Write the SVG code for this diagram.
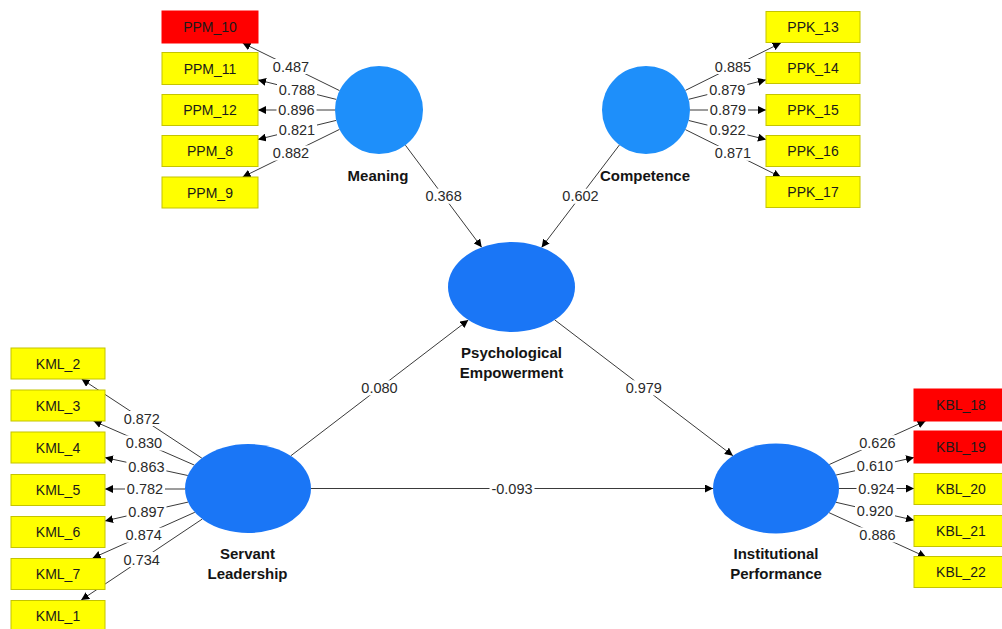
<svg xmlns="http://www.w3.org/2000/svg" width="1002" height="629" viewBox="0 0 1002 629">
<style>
.bg{fill:#ffffff}
.ind{fill:#ffff00;stroke:#c4c400;stroke-width:1}
.bad{fill:#ff0000;stroke:#ff0000;stroke-width:1}
.bt{font-family:"Liberation Sans",Arial,sans-serif;font-size:14px;fill:#1a1a1a;text-anchor:middle}
.lv1{fill:#1e8ffa}
.lv2{fill:#1a76f6}
.nl{font-family:"Liberation Sans",Arial,sans-serif;font-size:15px;font-weight:bold;fill:#141414;text-anchor:middle}
.ln{stroke:#3a3a3a;stroke-width:1;fill:none;marker-end:url(#ah)}
.lb{fill:#ffffff}
.lt{font-family:"Liberation Sans",Arial,sans-serif;font-size:14.5px;fill:#2a2a2a;text-anchor:middle}
</style>
<defs>
<marker id="ah" viewBox="0 0 8 8" refX="8" refY="4" markerWidth="8" markerHeight="8" markerUnits="userSpaceOnUse" orient="auto">
<path d="M0,0 L8,4 L0,8 z" fill="#000000"/>
</marker>
</defs>
<rect class="bg" x="0" y="0" width="1002" height="629"/>

<g id="connectors">
<!-- Meaning -->
<line class="ln" x1="339.5" y1="90.6" x2="242.6" y2="43"/>
<rect class="lb" x="271" y="59" width="40" height="15"/><text class="lt" x="291" y="71.8">0.487</text>
<line class="ln" x1="336.3" y1="99.4" x2="258" y2="79.9"/>
<rect class="lb" x="277" y="82" width="40" height="15"/><text class="lt" x="297" y="94.7">0.788</text>
<line class="ln" x1="335" y1="110" x2="258" y2="110"/>
<rect class="lb" x="276.5" y="102.5" width="40" height="15"/><text class="lt" x="296.5" y="115">0.896</text>
<line class="ln" x1="336.2" y1="120.4" x2="258" y2="139.4"/>
<rect class="lb" x="277" y="122.5" width="40" height="15"/><text class="lt" x="297" y="134.9">0.821</text>
<line class="ln" x1="339.5" y1="129.4" x2="242.6" y2="177"/>
<rect class="lb" x="271" y="145.5" width="40" height="15"/><text class="lt" x="291" y="158.2">0.882</text>
<!-- Competence -->
<line class="ln" x1="685.4" y1="90.4" x2="780.8" y2="43"/>
<rect class="lb" x="713" y="59" width="40" height="15"/><text class="lt" x="733" y="71.7">0.885</text>
<line class="ln" x1="688.7" y1="99.3" x2="766" y2="79.8"/>
<rect class="lb" x="707.3" y="82" width="40" height="15"/><text class="lt" x="727.3" y="94.5">0.879</text>
<line class="ln" x1="690" y1="110" x2="766" y2="110"/>
<rect class="lb" x="708" y="102.5" width="40" height="15"/><text class="lt" x="728" y="115">0.879</text>
<line class="ln" x1="688.7" y1="120.5" x2="766" y2="139.5"/>
<rect class="lb" x="707.4" y="122.5" width="40" height="15"/><text class="lt" x="727.4" y="135">0.922</text>
<line class="ln" x1="685.4" y1="129.6" x2="780.8" y2="177"/>
<rect class="lb" x="713" y="145.8" width="40" height="15"/><text class="lt" x="733" y="158.3">0.871</text>
<!-- Servant Leadership -->
<line class="ln" x1="201.9" y1="458.2" x2="81.6" y2="379"/>
<rect class="lb" x="121.8" y="411" width="40" height="15"/><text class="lt" x="141.8" y="423.6">0.872</text>
<line class="ln" x1="194.4" y1="465.1" x2="93.5" y2="421"/>
<rect class="lb" x="124" y="435.5" width="40" height="15"/><text class="lt" x="144" y="448">0.830</text>
<line class="ln" x1="187.8" y1="475.5" x2="105" y2="457.6"/>
<rect class="lb" x="126.4" y="459" width="40" height="15"/><text class="lt" x="146.4" y="471.6">0.863</text>
<line class="ln" x1="185" y1="489" x2="105" y2="489"/>
<rect class="lb" x="125" y="481.5" width="40" height="15"/><text class="lt" x="145" y="494">0.782</text>
<line class="ln" x1="188" y1="502.1" x2="105" y2="520.9"/>
<rect class="lb" x="126.5" y="504" width="40" height="15"/><text class="lt" x="146.5" y="516.5">0.897</text>
<line class="ln" x1="194.8" y1="512.3" x2="92.7" y2="558"/>
<rect class="lb" x="123.7" y="527.7" width="40" height="15"/><text class="lt" x="143.7" y="540.2">0.874</text>
<line class="ln" x1="202.2" y1="519.1" x2="81.2" y2="600"/>
<rect class="lb" x="121.7" y="552" width="40" height="15"/><text class="lt" x="141.7" y="564.5">0.734</text>
<!-- Institutional Performance -->
<line class="ln" x1="829.3" y1="464.5" x2="925.6" y2="421"/>
<rect class="lb" x="857.4" y="435.2" width="40" height="15"/><text class="lt" x="877.4" y="447.7">0.626</text>
<line class="ln" x1="836.1" y1="475" x2="914" y2="457.5"/>
<rect class="lb" x="855" y="458.8" width="40" height="15"/><text class="lt" x="875" y="471.3">0.610</text>
<line class="ln" x1="839" y1="488.5" x2="914" y2="488.5"/>
<rect class="lb" x="856.5" y="481" width="40" height="15"/><text class="lt" x="876.5" y="493.5">0.924</text>
<line class="ln" x1="836" y1="502.3" x2="914" y2="520.2"/>
<rect class="lb" x="855" y="503.8" width="40" height="15"/><text class="lt" x="875" y="516.3">0.920</text>
<line class="ln" x1="829.1" y1="512.7" x2="926" y2="557"/>
<rect class="lb" x="857.5" y="527.4" width="40" height="15"/><text class="lt" x="877.5" y="539.9">0.886</text>
<!-- Structural paths -->
<line class="ln" x1="405.4" y1="145.2" x2="481.7" y2="247.3"/>
<rect class="lb" x="423.6" y="188.7" width="40" height="15"/><text class="lt" x="443.6" y="201.2">0.368</text>
<line class="ln" x1="619.4" y1="145" x2="541.6" y2="247.4"/>
<rect class="lb" x="560.5" y="188.7" width="40" height="15"/><text class="lt" x="580.5" y="201.2">0.602</text>
<line class="ln" x1="290.8" y1="455.8" x2="468.3" y2="320"/>
<rect class="lb" x="359.5" y="380.4" width="40" height="15"/><text class="lt" x="379.5" y="392.9">0.080</text>
<line class="ln" x1="554.7" y1="319.9" x2="732.9" y2="455.7"/>
<rect class="lb" x="623.8" y="380.3" width="40" height="15"/><text class="lt" x="643.8" y="392.8">0.979</text>
<line class="ln" x1="311" y1="488.5" x2="713" y2="488.5"/>
<rect class="lb" x="489.5" y="481" width="45" height="15"/><text class="lt" x="512" y="493.5">-0.093</text>
</g>

<g id="node-meaning"><circle class="lv1" cx="379" cy="110" r="44"/><text class="nl" x="378" y="181">Meaning</text></g>
<g id="node-competence"><circle class="lv1" cx="646" cy="110" r="44"/><text class="nl" x="645" y="181">Competence</text></g>
<g id="node-psychological-empowerment"><ellipse class="lv2" cx="511.5" cy="287" rx="63.5" ry="45"/><text class="nl" x="511.5" y="358">Psychological</text><text class="nl" x="511.5" y="378">Empowerment</text></g>
<g id="node-servant-leadership"><ellipse class="lv2" cx="248" cy="488.5" rx="63" ry="44.5"/><text class="nl" x="247.5" y="559">Servant</text><text class="nl" x="247.5" y="579">Leadership</text></g>
<g id="node-institutional-performance"><ellipse class="lv2" cx="776" cy="488.5" rx="63" ry="45"/><text class="nl" x="776" y="559">Institutional</text><text class="nl" x="776" y="579">Performance</text></g>

<g id="node-PPM_10"><rect class="bad" x="162" y="11" width="96" height="32"/><text class="bt" x="210" y="32">PPM_10</text></g>
<g id="node-PPM_11"><rect class="ind" x="162" y="52.5" width="96" height="32"/><text class="bt" x="210" y="73.5">PPM_11</text></g>
<g id="node-PPM_12"><rect class="ind" x="162" y="94.5" width="96" height="31"/><text class="bt" x="210" y="115">PPM_12</text></g>
<g id="node-PPM_8"><rect class="ind" x="162" y="135.5" width="96" height="31"/><text class="bt" x="210" y="156">PPM_8</text></g>
<g id="node-PPM_9"><rect class="ind" x="162" y="177" width="96" height="31"/><text class="bt" x="210" y="197.5">PPM_9</text></g>

<g id="node-PPK_13"><rect class="ind" x="766" y="11.5" width="94" height="31"/><text class="bt" x="813" y="32">PPK_13</text></g>
<g id="node-PPK_14"><rect class="ind" x="766" y="52.5" width="94" height="31"/><text class="bt" x="813" y="73">PPK_14</text></g>
<g id="node-PPK_15"><rect class="ind" x="766" y="94.5" width="94" height="31"/><text class="bt" x="813" y="115">PPK_15</text></g>
<g id="node-PPK_16"><rect class="ind" x="766" y="135.5" width="94" height="31"/><text class="bt" x="813" y="156">PPK_16</text></g>
<g id="node-PPK_17"><rect class="ind" x="766" y="176.5" width="94" height="31"/><text class="bt" x="813" y="197">PPK_17</text></g>

<g id="node-KML_2"><rect class="ind" x="11" y="348" width="94" height="31"/><text class="bt" x="58" y="368.5">KML_2</text></g>
<g id="node-KML_3"><rect class="ind" x="11" y="390" width="94" height="31"/><text class="bt" x="58" y="410.5">KML_3</text></g>
<g id="node-KML_4"><rect class="ind" x="11" y="432" width="94" height="31"/><text class="bt" x="58" y="452.5">KML_4</text></g>
<g id="node-KML_5"><rect class="ind" x="11" y="474.5" width="94" height="31"/><text class="bt" x="58" y="495">KML_5</text></g>
<g id="node-KML_6"><rect class="ind" x="11" y="516.5" width="94" height="31"/><text class="bt" x="58" y="537">KML_6</text></g>
<g id="node-KML_7"><rect class="ind" x="11" y="558.5" width="94" height="31"/><text class="bt" x="58" y="579">KML_7</text></g>
<g id="node-KML_1"><rect class="ind" x="11" y="600.5" width="94" height="31"/><text class="bt" x="58" y="621">KML_1</text></g>

<g id="node-KBL_18"><rect class="bad" x="914" y="389" width="94" height="32"/><text class="bt" x="961" y="410">KBL_18</text></g>
<g id="node-KBL_19"><rect class="bad" x="914" y="431" width="94" height="32"/><text class="bt" x="961" y="452">KBL_19</text></g>
<g id="node-KBL_20"><rect class="ind" x="914" y="473.5" width="94" height="31"/><text class="bt" x="961" y="494">KBL_20</text></g>
<g id="node-KBL_21"><rect class="ind" x="914" y="515.5" width="94" height="31"/><text class="bt" x="961" y="536">KBL_21</text></g>
<g id="node-KBL_22"><rect class="ind" x="914" y="556.5" width="94" height="31"/><text class="bt" x="961" y="577">KBL_22</text></g>
</svg>
